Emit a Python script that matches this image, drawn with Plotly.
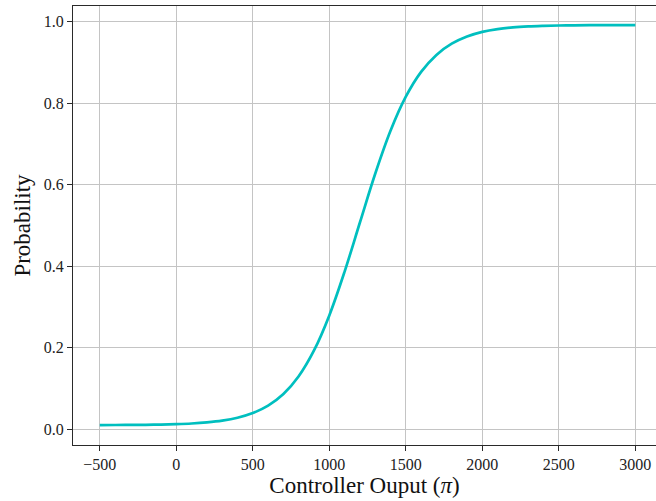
import plotly.graph_objects as go

# Controller output (x) and probability (y)
controller_output = [-500, -400, -300, -200, -100, 0, 100, 200, 300, 400, 500,
                     600, 700, 800, 900, 1000, 1100, 1200, 1300, 1400, 1500,
                     1600, 1700, 1800, 1900, 2000, 2100, 2200, 2300, 2400, 2500,
                     2600, 2700, 2800, 2900, 3000]
probability = [0.0105, 0.0106, 0.0108, 0.0111, 0.0117, 0.0127, 0.0143, 0.0170,
               0.0213, 0.0283, 0.0398, 0.0580, 0.0865, 0.1302, 0.1935, 0.2796,
               0.3871, 0.5076, 0.6272, 0.7327, 0.8163, 0.8772, 0.9190, 0.9465,
               0.9641, 0.9755, 0.9823, 0.9864, 0.9888, 0.9902, 0.9911, 0.9916,
               0.9919, 0.9921, 0.9922, 0.9923]

x_ticks = [-500, 0, 500, 1000, 1500, 2000, 2500, 3000]
x_tick_text = ["\u2212500", "0", "500", "1000", "1500", "2000", "2500", "3000"]
y_ticks = [0.0, 0.2, 0.4, 0.6, 0.8, 1.0]
y_tick_text = ["0.0", "0.2", "0.4", "0.6", "0.8", "1.0"]

font_family = "Liberation Serif, Times New Roman, serif"

fig = go.Figure()
fig.add_trace(go.Scatter(
    x=controller_output, y=probability, mode="lines",
    line=dict(color="#00bfbf", width=2.7, shape="spline"),
    showlegend=False, hoverinfo="skip",
))

fig.update_layout(
    width=656, height=501,
    margin=dict(l=73, r=0, t=6, b=56),
    paper_bgcolor="white", plot_bgcolor="white",
    font=dict(family=font_family, color="#222222", size=16),
)
fig.update_xaxes(
    range=[-675, 3135],
    tickvals=x_ticks, ticktext=x_tick_text,
    showgrid=True, gridcolor="#c4c4c4", gridwidth=1,
    showline=True, linecolor="#2a2a2a", linewidth=1.2, mirror=True,
    ticks="outside", ticklen=5, tickcolor="#2a2a2a", tickwidth=1,
    zeroline=False,
    tickfont=dict(family=font_family, size=16, color="#222222"),
    title=dict(text="Controller Ouput (<i>\u03c0</i>)", standoff=4,
               font=dict(family=font_family, size=23, color="#111111")),
)
fig.update_yaxes(
    range=[-0.0385, 1.039],
    tickvals=y_ticks, ticktext=y_tick_text,
    showgrid=True, gridcolor="#c4c4c4", gridwidth=1,
    showline=True, linecolor="#2a2a2a", linewidth=1.2, mirror=False,
    ticks="outside", ticklen=5, tickcolor="#2a2a2a", tickwidth=1,
    zeroline=False,
    tickfont=dict(family=font_family, size=16, color="#222222"),
    title=dict(text="Probability", standoff=6,
               font=dict(family=font_family, size=23, color="#111111")),
)

fig.write_html("out.html",
               config={"displayModeBar": False},
               post_script="document.body.style.margin='0px';document.body.style.overflow='hidden';")
